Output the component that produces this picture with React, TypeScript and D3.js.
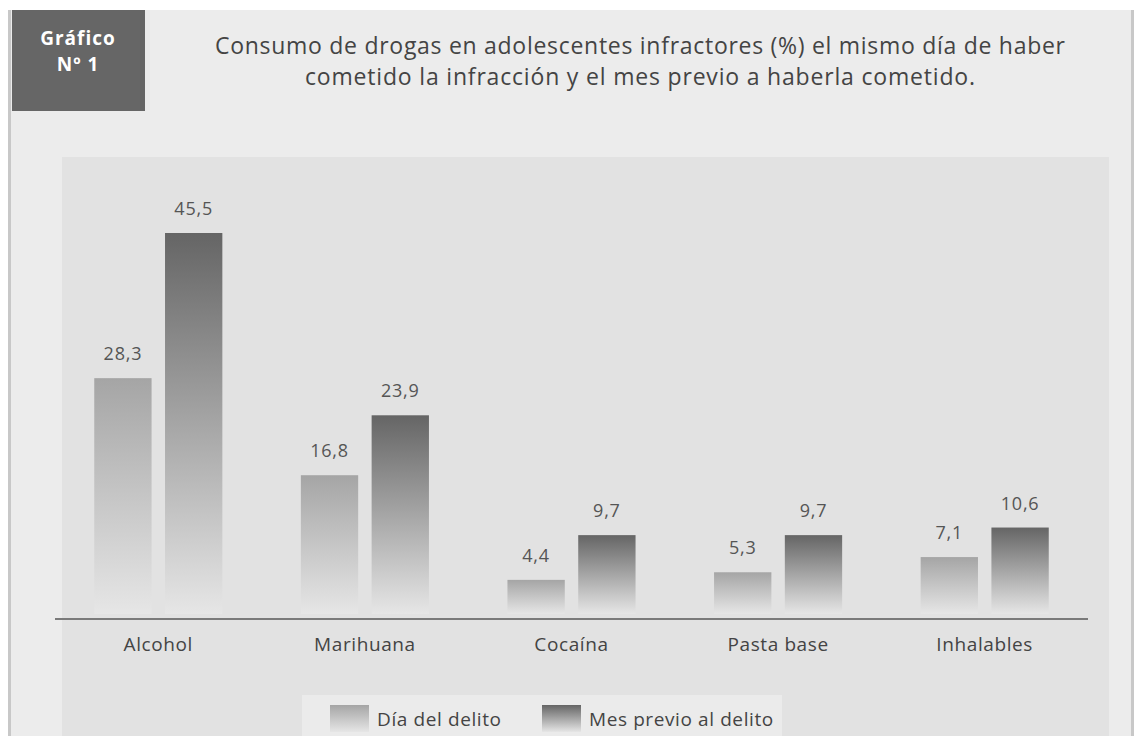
import React from "react";
import * as d3 from "d3";

const categories = ["Alcohol", "Marihuana", "Cocaína", "Pasta base", "Inhalables"];
const series = ["Día del delito", "Mes previo al delito"];
const diaDelito = [28.3, 16.8, 4.4, 5.3, 7.1];
const mesPrevio = [45.5, 23.9, 9.7, 9.7, 10.6];

const titleLines = [
  "Consumo de drogas en adolescentes infractores (%) el mismo día de haber",
  "cometido la infracción y el mes previo a haberla cometido.",
];
const titleWidths = [850, 670];

const W = 1136;
const H = 736;
const font = "'Open Sans', 'DejaVu Sans', sans-serif";
const baseY = 617;

const x0 = d3
  .scaleBand<string>()
  .domain(categories)
  .range([55, 1088])
  .paddingInner(0.38)
  .paddingOuter(0.19);

const x1 = d3
  .scaleBand<string>()
  .domain(series)
  .range([0, x0.bandwidth()])
  .paddingInner(0.19);

const y = d3.scaleLinear().domain([0, 45.5]).range([baseY, 233]);

const fmt = (v: number) => d3.format(".1f")(v).replace(".", ",");

const gradId = ["gLight", "gDark"];

const App = () => {
  const values = [diaDelito, mesPrevio];
  return (
    <svg
      width={W}
      height={H}
      style={{ position: "absolute", left: 0, top: 0, background: "#fff" }}
    >
      <defs>
        <linearGradient id="gLight" x1="0" y1="0" x2="0" y2="1">
          <stop offset="0" stopColor="#a5a5a5" />
          <stop offset="1" stopColor="#e6e6e6" />
        </linearGradient>
        <linearGradient id="gDark" x1="0" y1="0" x2="0" y2="1">
          <stop offset="0" stopColor="#656565" />
          <stop offset="1" stopColor="#e6e6e6" />
        </linearGradient>
      </defs>

      {/* outer frame */}
      <rect x={8} y={10} width={1126} height={H - 10} fill="#c8c8c8" />
      <rect x={11} y={10} width={1120} height={H - 10} fill="#ececec" />

      {/* header box */}
      <rect x={12} y={10} width={133} height={101} fill="#666" />
      <text x={78} y={45} textAnchor="middle" fill="#fff" fontFamily={font} fontWeight={700} fontSize={19} letterSpacing={1}>
        Gráfico
      </text>
      <text x={78} y={71} textAnchor="middle" fill="#fff" fontFamily={font} fontWeight={700} fontSize={19} letterSpacing={1}>
        Nº 1
      </text>

      {titleLines.map((t, i) => (
        <text
          key={i}
          x={640 - titleWidths[i] / 2}
          y={54 + i * 31}
          fill="#444"
          fontFamily={font}
          fontSize={23}
          textLength={titleWidths[i]}
          lengthAdjust="spacing"
        >
          {t}
        </text>
      ))}

      {/* plot area */}
      <rect x={62} y={157} width={1047} height={H - 157} fill="#e2e2e2" />

      {categories.map((c, i) => (
        <g key={c} transform={`translate(${x0(c)},0)`}>
          {series.map((s, j) => {
            const v = values[j][i];
            const bx = x1(s) as number;
            return (
              <g key={s}>
                <rect x={bx} y={y(v)} width={x1.bandwidth()} height={baseY - y(v) - 3} fill={`url(#${gradId[j]})`} />
                <text
                  x={bx + x1.bandwidth() / 2}
                  y={y(v) - 18}
                  textAnchor="middle"
                  fill="#555"
                  fontFamily={font}
                  fontSize={18}
                  letterSpacing={0.8}
                >
                  {fmt(v)}
                </text>
              </g>
            );
          })}
          <text
            x={x0.bandwidth() / 2}
            y={651}
            textAnchor="middle"
            fill="#444"
            fontFamily={font}
            fontSize={19}
            letterSpacing={0.6}
          >
            {c}
          </text>
        </g>
      ))}

      <line x1={55} x2={1088} y1={619} y2={619} stroke="#7a7a7a" strokeWidth={2} />

      {/* legend */}
      <rect x={302} y={695} width={480} height={H - 695} fill="#ebebeb" />
      {series.map((s, j) => {
        const lx = [330, 542][j];
        return (
          <g key={s}>
            <rect x={lx} y={705} width={39} height={27} fill={`url(#${gradId[j]})`} />
            <text x={lx + 47} y={726} fill="#444" fontFamily={font} fontSize={19} letterSpacing={0.6}>
              {s}
            </text>
          </g>
        );
      })}
    </svg>
  );
};

export default App;
